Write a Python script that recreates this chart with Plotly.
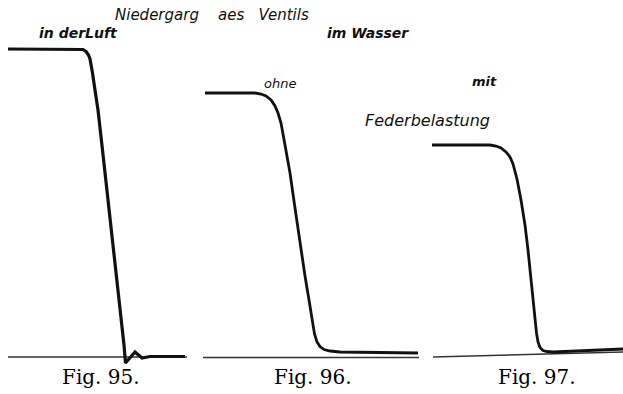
import plotly.graph_objects as go

W, H = 623, 394

# Valve lift traces: time (arbitrary units) vs. lift (mm)
t95 = [0.8, 7.8, 8.3, 8.6, 8.85, 9.0, 9.1, 9.25, 9.5, 9.8, 10.25, 10.7, 11.15,
       11.6, 12.05, 12.4, 12.55, 13.5, 14.2, 15.0, 18.5]
s95 = [30.8, 30.8, 30.75, 30.55, 30.2, 29.8, 29.3, 28.4, 26.7, 24.7, 20.7,
       16.7, 12.7, 8.7, 4.7, 1.2, -0.6, 0.5, -0.1, 0.05, 0.05]

t96 = [1.0, 6.0, 6.6, 7.1, 7.6, 8.0, 8.3, 8.6, 9.0, 9.5, 10.0, 10.5, 11.0,
       11.4, 11.7, 11.95, 12.2, 12.5, 12.9, 13.5, 14.5, 22.3]
s96 = [26.4, 26.4, 26.3, 26.1, 25.7, 25.1, 24.4, 23.4, 21.2, 18.4, 14.9, 11.4,
       8.1, 5.7, 3.6, 2.3, 1.5, 1.05, 0.75, 0.6, 0.5, 0.4]

t97 = [0.7, 6.5, 7.1, 7.6, 8.1, 8.5, 8.8, 9.2, 9.6, 10.0, 10.3, 10.6, 10.8,
       11.0, 11.15, 11.3, 11.5, 11.8, 12.2, 12.8, 19.8]
s97 = [21.2, 21.2, 21.1, 20.9, 20.5, 20.0, 19.3, 17.8, 15.7, 13.2, 10.7, 7.7,
       5.7, 3.7, 2.4, 1.5, 0.95, 0.65, 0.55, 0.5, 0.8]

# Zero lines of each diagram
base95_t = [0.8, 18.7]
base95_s = [0.0, 0.0]
base96_t = [0.8, 22.4]
base96_s = [-0.05, -0.05]
base97_t = [0.8, 19.8]
base97_s = [0.0, 0.5]

fig_labels = ["Fig. 95.", "Fig. 96.", "Fig. 97."]

# panel extents in paper fractions and their time ranges
panels = [
    (0 / W, 195 / W, 19.5),
    (195 / W, 425 / W, 23.0),
    (425 / W, 623 / W, 19.8),
]

ink = "#111111"
fig = go.Figure()

series = [
    (t95, s95, base95_t, base95_s, 3.2),
    (t96, s96, base96_t, base96_s, 2.8),
    (t97, s97, base97_t, base97_s, 2.8),
]
for i, (t, s, bt, bs, lw) in enumerate(series):
    xa = "x" if i == 0 else f"x{i + 1}"
    fig.add_trace(go.Scatter(x=bt, y=bs, xaxis=xa, yaxis="y", mode="lines",
                             line=dict(color="#333333", width=1.4),
                             hoverinfo="skip", showlegend=False))
    fig.add_trace(go.Scatter(x=t, y=s, xaxis=xa, yaxis="y", mode="lines",
                             line=dict(color=ink, width=lw),
                             hoverinfo="skip", showlegend=False))

layout_axes = {}
for i, (d0, d1, rng) in enumerate(panels):
    key = "xaxis" if i == 0 else f"xaxis{i + 1}"
    layout_axes[key] = dict(domain=[d0, d1], range=[0, rng], visible=False,
                            anchor="y", fixedrange=True)

fig.update_layout(
    width=W, height=H,
    margin=dict(l=0, r=0, t=0, b=0),
    paper_bgcolor="white", plot_bgcolor="white",
    yaxis=dict(domain=[0, 1], range=[-3.7, 35.7], visible=False,
               fixedrange=True),
    **layout_axes,
)

hand = dict(family="DejaVu Sans", color=ink, style="italic")


def note(text, x, y, size, weight="normal", anchor="left"):
    fig.add_annotation(text=text, xref="paper", yref="paper",
                       x=x / W, y=1 - y / H, xanchor=anchor, yanchor="middle",
                       showarrow=False,
                       font=dict(size=size, weight=weight, **hand))


note("Niedergarg&nbsp;&nbsp;&nbsp;&nbsp;aes&nbsp;&nbsp;&nbsp;Ventils", 113, 15, 15)
note("in derLuft", 37, 33, 14, "bold")
note("im Wasser", 325, 33, 14, "bold")
note("ohne", 262, 83, 13)
note("mit", 470, 81, 13, "bold")
note("Federbelastung", 363, 120, 16)

for label, cx in zip(fig_labels, [101, 313, 537]):
    fig.add_annotation(text=label, xref="paper", yref="paper",
                       x=cx / W, y=1 - 377 / H, xanchor="center",
                       yanchor="middle", showarrow=False,
                       font=dict(family="DejaVu Serif", size=20, color="#000"))

fig.write_html("out.html", config=dict(displayModeBar=False))
